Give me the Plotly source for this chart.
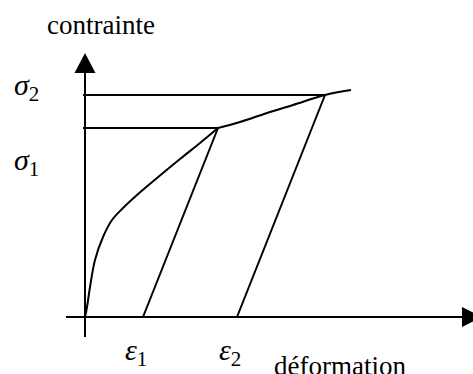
import plotly.graph_objects as go

# loading curve (strain, stress)
strain = [0.0, 0.02, 0.05, 0.10, 0.18, 0.27, 0.37, 0.52, 0.72, 0.95, 1.15, 1.33,
          1.55, 1.82, 2.08, 2.40, 2.66]
stress = [0.0, 0.10, 0.30, 0.57, 0.80, 0.97, 1.08, 1.22, 1.39, 1.58, 1.74, 1.89,
          1.95, 2.04, 2.12, 2.22, 2.27]

# unloading: residual strain, stress level, strain at unloading point
eps = [0.58, 1.52]
sig = [1.89, 2.22]
eps_top = [1.33, 2.40]

eps_labels = ["<i>ε</i><sub>1</sub>", "<i>ε</i><sub>2</sub>"]
sig_labels = ["<i>σ</i><sub>1</sub>", "<i>σ</i><sub>2</sub>"]

W, H = 473, 374
x_range = [-0.85, 3.88]
y_range = [-0.57, 3.17]
px = (x_range[1] - x_range[0]) / W  # data units per pixel
py = (y_range[1] - y_range[0]) / H

fig = go.Figure()
line = dict(color="black", width=2)

# the curve has a corner at the first unloading point
k = strain.index(eps_top[0])
for xs, ys in [(strain[:k + 1], stress[:k + 1]), (strain[k:], stress[k:])]:
    fig.add_trace(go.Scatter(x=xs, y=ys, mode="lines",
                             line=dict(color="black", width=2, shape="spline", smoothing=1.0)))

for e, s, et in zip(eps, sig, eps_top):
    fig.add_trace(go.Scatter(x=[e, et], y=[0, s], mode="lines", line=line))
    fig.add_trace(go.Scatter(x=[-2 * px, et], y=[s, s], mode="lines", line=line))

# axes
x_end = 3.77
y_end = 2.64
fig.add_trace(go.Scatter(x=[-19 * px, x_end], y=[0, 0], mode="lines", line=line))
fig.add_trace(go.Scatter(x=[0, 0], y=[-20 * py, y_end - 18 * py], mode="lines", line=line))

shapes = [
    dict(type="path", fillcolor="black", line=dict(width=0),
         path=f"M {x_end},{10*py} L {x_end + 20*px},0 L {x_end},{-10*py} Z"),
    dict(type="path", fillcolor="black", line=dict(width=0),
         path=f"M {-10.5*px},{y_end - 20*py} L 0,{y_end} L {10.5*px},{y_end - 20*py} Z"),
]

font = dict(family="Liberation Serif", size=27, color="black")
gfont = dict(family="Liberation Serif", size=30, color="black")
ann = [
    dict(x=0.16, y=2.92, text="contrainte", showarrow=False, font=font),
    dict(x=2.55, y=-0.485, text="déformation", showarrow=False, font=font),
]
for e, t in zip(eps, eps_labels):
    ann.append(dict(x=e - 0.07, y=-0.35, text=t, showarrow=False, font=gfont))
for s, y, t in zip(sig, [1.55, 2.30], sig_labels):
    ann.append(dict(x=-0.59, y=y, text=t, showarrow=False, font=gfont))

fig.update_layout(
    width=W, height=H,
    margin=dict(l=0, r=0, t=0, b=0),
    paper_bgcolor="white", plot_bgcolor="white",
    showlegend=False,
    xaxis=dict(range=x_range, visible=False, fixedrange=True),
    yaxis=dict(range=y_range, visible=False, fixedrange=True),
    shapes=shapes,
    annotations=ann,
)

# drop the default body margin so the figure fills the window exactly
fig.write_html("out.html", config={"displayModeBar": False},
               post_script="document.body.style.margin = '0';")
